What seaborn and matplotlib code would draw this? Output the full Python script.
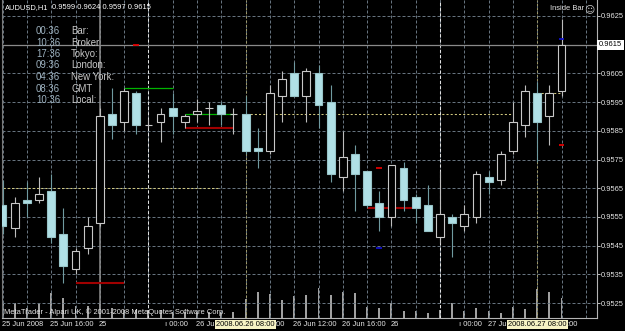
import matplotlib
matplotlib.use("Agg")
import matplotlib.pyplot as plt
import numpy as np
import pandas as pd
import seaborn as sns

# ---------------- data ----------------
symbol = "AUDUSD,H1"
opens = [0.9559, 0.9551, 0.9561, 0.9561, 0.9564, 0.9549, 0.9537, 0.9544, 0.9553, 0.9591,
         0.9588, 0.9598, 0.9587, 0.9588, 0.9593, 0.9588, 0.9591, 0.9593, 0.9594, 0.9591,
         0.9591, 0.9579, 0.9578, 0.9597, 0.9605, 0.9597, 0.9605, 0.9595, 0.9569, 0.9577,
         0.9571, 0.9560, 0.9555, 0.9572, 0.9562, 0.9559, 0.9548, 0.9555, 0.9552, 0.9555,
         0.9569, 0.9568, 0.9578, 0.9587, 0.9598, 0.9590, 0.9599]
highs = [0.9568, 0.9562, 0.9567, 0.9569, 0.9570, 0.9558, 0.9544, 0.9555, 0.9593, 0.9600,
         0.9600, 0.9599, 0.9589, 0.9593, 0.9598, 0.9591, 0.9596, 0.9595, 0.9595, 0.9593,
         0.9597, 0.9586, 0.9601, 0.9606, 0.9609, 0.9607, 0.9608, 0.9601, 0.9585, 0.9580,
         0.9571, 0.9564, 0.9573, 0.9574, 0.9563, 0.9566, 0.9571, 0.9556, 0.9559, 0.9571,
         0.9571, 0.9578, 0.9595, 0.9601, 0.9602, 0.9601, 0.9624]
lows = [0.9549, 0.9548, 0.9555, 0.9560, 0.9546, 0.9532, 0.9535, 0.9542, 0.9552, 0.9582,
        0.9585, 0.9584, 0.9586, 0.9581, 0.9584, 0.9586, 0.9588, 0.9587, 0.9587, 0.9584,
        0.9577, 0.9572, 0.9577, 0.9588, 0.9597, 0.9588, 0.9586, 0.9567, 0.9564, 0.9557,
        0.9558, 0.9550, 0.9552, 0.9557, 0.9553, 0.9550, 0.9546, 0.9541, 0.9550, 0.9553,
        0.9563, 0.9566, 0.9577, 0.9583, 0.9574, 0.9580, 0.9597]
closes = [0.9552, 0.9560, 0.9560, 0.9563, 0.9548, 0.9538, 0.9543, 0.9552, 0.9590, 0.9587,
          0.9599, 0.9587, 0.9587, 0.9591, 0.9590, 0.9590, 0.9592, 0.9593, 0.9591, 0.9591,
          0.9578, 0.9578, 0.9598, 0.9603, 0.9597, 0.9606, 0.9594, 0.9570, 0.9576, 0.9570,
          0.9559, 0.9555, 0.9573, 0.9561, 0.9558, 0.9550, 0.9556, 0.9553, 0.9556, 0.9570,
          0.9567, 0.9577, 0.9588, 0.9599, 0.9588, 0.9598, 0.9615]
volumes = [150, 150, 100, 150, 250, 200, 120, 120, 140, 100,
           80, 80, 80, 80, 60, 60, 60, 60, 60, 60,
           190, 260, 240, 180, 220, 230, 300, 230, 260, 250,
           110, 100, 150, 70, 70, 50, 80, 150, 70, 100,
           70, 50, 110, 90, 290, 260, 200]
bar_index = list(range(len(opens)))

price_ticks = [0.9525, 0.9535, 0.9545, 0.9555, 0.9565, 0.9575, 0.9585, 0.9595, 0.9605, 0.9615, 0.9625]
price_tick_labels = ["0.9525", "0.9535", "0.9545", "0.9555", "0.9565", "0.9575",
                     "0.9585", "0.9595", "0.9605", "0.9615", "0.9625"]
bid_price = 0.9615

time_label_bars = [0, 4, 8, 12, 16, 20, 24, 28, 32, 36, 40, 44]
time_label_texts = ["25 Jun 2008", "25 Jun 16:00", "25", "ı 00:00", "26 Jun", ":00",
                    "26 Jun 12:00", "26 Jun 16:00", "26", "ı 00:00", "27 Jun", ":00"]
time_label_shift = [-1, -1, -1, 17, -1, 29, -1, -1, -1, 19, -1, 30]

vline_bars = [20, 44]
vline_texts = ["2008.06.26 08:00", "2008.06.27 08:00"]
separator_bars = [12, 36]
solid_line_bar = 8

ib_high_levels = [0.9600, 0.9591]
ib_high_from = [10, 15]
ib_high_to = [14, 19]
ib_low_levels = [0.9532, 0.9586, 0.9558]
ib_low_from = [6, 15, 30]
ib_low_to = [10, 19, 33.7]
close_levels = [0.9565, 0.9591, 0.9598]
close_from = [-0.5, 20, 44]
close_to = [17.8, 42, 46]
sig_red_bars = [11, 31, 46]
sig_red_levels = [0.9615, 0.9572, 0.9580]
sig_blue_bars = [31, 46]
sig_blue_levels = [0.9544, 0.9617]

clock_times = ["00:36", "10:36", "17:36", "09:36", "04:36", "08:36", "10:36"]
clock_names = ["Bar:", "Broker", "Tokyo:", "London:", "New York:", "GMT", "Local:"]
copyright_text = "MetaTrader - Alpari UK, © 2001-2008 MetaQuotes Software Corp."

# ---------------- style ----------------
sns.set_theme(style="dark", rc={"axes.facecolor": "black", "figure.facecolor": "black",
                                "savefig.facecolor": "black"})
plt.rcParams["font.family"] = ["Liberation Sans", "DejaVu Sans"]
SMALL = 5.4

W, H = 625, 331
L, R, T, B = 2, 597, 0, 318.3
fig = plt.figure(figsize=(W / 100, H / 100), dpi=100)
pos = [L / W, 1 - B / H, (R - L) / W, (B - T) / H]
ax_vol = fig.add_axes(pos)
ax = fig.add_axes(pos)
ax.patch.set_visible(False)

xlim = (-0.05, 48.92)
px_per_price = 28700.0
ylim = (0.9625 - (B - 16) / px_per_price, 0.9625 + (16 - T) / px_per_price)

# ---------------- volumes ----------------
df = pd.DataFrame({"bar": bar_index, "volume": volumes})
sns.barplot(data=df, x="bar", y="volume", native_scale=True, width=0.16,
            color="#a0a0a0", saturation=1, errorbar=None, linewidth=0, ax=ax_vol)
ax_vol.set_xlim(xlim)
ax_vol.set_ylim(0, (B - T) * 10)
ax_vol.set_axis_off()

# ---------------- candles ----------------
o = np.array(opens); c = np.array(closes); h = np.array(highs); lo = np.array(lows)
x = np.array(bar_index)
up = c >= o
dn = ~up
ax.vlines(x[up], lo[up], h[up], color="#bdbdbd", lw=0.8, zorder=2.5)
ax.vlines(x[dn], lo[dn], h[dn], color="#6f9aa0", lw=0.8, zorder=2.5)
ax.bar(x[up], c[up] - o[up], bottom=o[up], width=0.64, facecolor="black",
       edgecolor="#c8c8c8", linewidth=0.8, zorder=3)
ax.bar(x[dn], o[dn] - c[dn], bottom=c[dn], width=0.64, facecolor="#b0e0e6",
       edgecolor="#98c4c8", linewidth=0.8, zorder=3)

# ---------------- lines / objects ----------------
ax.axhline(bid_price, color="#8a8a8a", lw=0.9, zorder=1.5)
ax.axvline(solid_line_bar, color="#8c8c8c", lw=1.1, zorder=1.2)
for b in separator_bars:
    ax.axvline(b, color="#e0e0e0", lw=0.75, ls=(0, (3, 2)), zorder=1.2)
for b in vline_bars:
    ax.axvline(b, color="#9e9866", lw=0.75, ls=(0, (2, 2)), zorder=1.2)
ax.hlines(close_levels, close_from, close_to, color="#cfc77e", lw=0.75, ls=(0, (2, 2)), zorder=1.3)
ax.hlines(ib_high_levels, ib_high_from, ib_high_to, color="#00b400", lw=0.9, zorder=2)
ax.hlines(ib_low_levels, ib_low_from, ib_low_to, color="#a00000", lw=1.5, zorder=2)
ax.hlines(sig_red_levels, np.array(sig_red_bars) - 0.23, np.array(sig_red_bars) + 0.23,
          color="#e00000", lw=1.3, zorder=4)
ax.hlines(sig_blue_levels, np.array(sig_blue_bars) - 0.23, np.array(sig_blue_bars) + 0.23,
          color="#1010c8", lw=1.3, zorder=4)

# ---------------- axes ----------------
ax.set_xlim(xlim)
ax.set_ylim(ylim)
ax.set_yticks(price_ticks)
# the bid level is shown in its own highlighted box instead of a plain tick label
ax.set_yticklabels(["" if abs(p - bid_price) < 1e-9 else s
                    for p, s in zip(price_ticks, price_tick_labels)])
ax.yaxis.tick_right()
ax.set_xticks(time_label_bars)
ax.set_xticklabels([])
ax.set_xticks(list(range(0, 49, 2)), minor=True)
ax.set_axisbelow(True)
ax.grid(True, which="both", axis="x", color="#66737e", lw=0.72, ls=(0, (3, 2)))
ax.grid(True, which="major", axis="y", color="#66737e", lw=0.72, ls=(0, (3, 2)))
ax.tick_params(axis="y", which="major", labelsize=SMALL, labelcolor="#e6e6e6", color="#c0c0c0",
               length=2, width=0.7, pad=1.0, direction="out")
ax.tick_params(axis="x", which="major", length=3, width=0.7, color="#c0c0c0", direction="out")
ax.tick_params(axis="x", which="minor", length=0)
for side, sp in ax.spines.items():
    sp.set_color("#b4b4b4")
    sp.set_linewidth(0.8)
ax.spines["top"].set_visible(False)
ax.spines["left"].set_color("#7a7a7a")

xt = ax.get_xaxis_transform()
for b, t, s in zip(time_label_bars, time_label_texts, time_label_shift):
    ax.annotate(t, xy=(b, 0), xycoords=xt, xytext=(s, -6.5), textcoords="offset pixels",
                ha="left", va="center", fontsize=SMALL, color="#e6e6e6", annotation_clip=False)
for b, t in zip(vline_bars, vline_texts):
    ax.annotate(t, xy=(b, 0), xycoords=xt, xytext=(0, -6.5), textcoords="offset pixels",
                ha="center", va="center", fontsize=SMALL, color="black", zorder=6,
                bbox=dict(boxstyle="square,pad=0.15", fc="#f6f2c4", ec="none"),
                annotation_clip=False)

ax.annotate(f"{bid_price:.4f}", xy=(1, bid_price), xycoords=ax.get_yaxis_transform(),
            xytext=(2, 0), textcoords="offset pixels", ha="left", va="center",
            fontsize=SMALL, color="black", zorder=10, annotation_clip=False,
            bbox=dict(boxstyle="square,pad=0.22", fc="white", ec="none"))

# ---------------- overlay texts ----------------
def ft(xp, yp, s, **kw):
    fig.text(xp / W, 1 - yp / H, s, va="center", **kw)

ft(5, 7.3, symbol, fontsize=SMALL, color="white", ha="left")
ft(52, 7.3, f"{opens[-1]:.4f} {highs[-1]:.4f} {lows[-1]:.4f} {closes[-1]:.4f}",
   fontsize=SMALL, color="white", ha="left")
for i, (tm, nm) in enumerate(zip(clock_times, clock_names)):
    yy = 31 + 11.5 * i
    ft(36, yy, tm, fontsize=6.9, color="#9db2c0", ha="left")
    ft(71, yy, nm, fontsize=6.9, color="#c8c8c8", ha="left")
ft(550, 9, "Inside Bar", fontsize=SMALL, color="#e6e6e6", ha="left")
fig.text(589 / W, 1 - 9 / H, "☺", fontsize=7, color="#d0d0d0", ha="center", va="center",
         family=["DejaVu Sans"])
ft(4, 311.7, copyright_text, fontsize=SMALL, color="#e6e6e6", ha="left")

fig.savefig("out.png", dpi=100, facecolor="black")
